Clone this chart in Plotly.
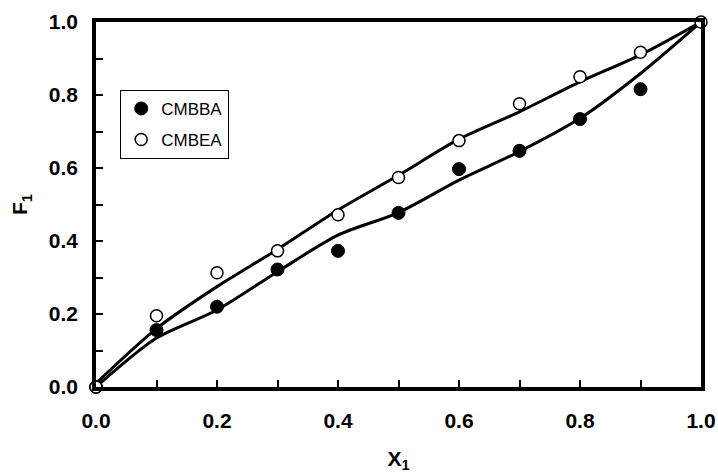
import plotly.graph_objects as go

# experimental points
x_pts = [0.0, 0.1, 0.2, 0.3, 0.4, 0.5, 0.6, 0.7, 0.8, 0.9]
cmbba = [0.0, 0.156, 0.22, 0.322, 0.373, 0.477, 0.597, 0.647, 0.734, 0.816]
x_pts_e = [0.0, 0.1, 0.2, 0.3, 0.4, 0.5, 0.6, 0.7, 0.8, 0.9, 1.0]
cmbea = [0.0, 0.195, 0.313, 0.373, 0.472, 0.574, 0.675, 0.776, 0.85, 0.917, 1.0]

# fitted curves
x_fit = [0.0, 0.1, 0.2, 0.3, 0.4, 0.5, 0.6, 0.7, 0.8, 0.9, 1.0]
fit_upper = [0.01, 0.16, 0.275, 0.377, 0.485, 0.58, 0.679, 0.754, 0.836, 0.91, 1.0]
fit_lower = [0.0, 0.134, 0.211, 0.316, 0.416, 0.478, 0.567, 0.645, 0.736, 0.859, 1.0]

fig = go.Figure()
for yy in (fit_upper, fit_lower):
    fig.add_trace(go.Scatter(x=x_fit, y=yy, mode="lines", showlegend=False,
                             line=dict(color="black", width=3, shape="spline", smoothing=0.8),
                             hoverinfo="skip", cliponaxis=False))
fig.add_trace(go.Scatter(x=x_pts, y=cmbba, mode="markers", name="CMBBA", legendgroup="a",
                         cliponaxis=False,
                         marker=dict(symbol="circle", size=13, color="black",
                                     line=dict(color="black", width=1))))
fig.add_trace(go.Scatter(x=x_pts_e, y=cmbea, mode="markers", name="CMBEA", legendgroup="b",
                         cliponaxis=False,
                         marker=dict(symbol="circle", size=12, color="white",
                                     line=dict(color="black", width=1.5))))

axis_common = dict(
    range=[0, 1], tick0=0, dtick=0.2, tickformat=".1f",
    ticks="inside", ticklen=7, tickwidth=1.5, tickcolor="black",
    minor=dict(dtick=0.1, ticks="inside", ticklen=7, tickwidth=1.5, tickcolor="black"),
    showline=True, linecolor="black", linewidth=3.5, mirror=True,
    showgrid=False, zeroline=False, automargin=False,
    tickfont=dict(family="Liberation Sans, Arial", size=21, color="black", weight="bold"),
)

fig.update_xaxes(**axis_common, ticklabelstandoff=12,
                 title=dict(text="<b>X<sub>1</sub></b>", standoff=38,
                            font=dict(family="Liberation Sans, Arial", size=21, color="black")))
fig.update_yaxes(**axis_common, ticklabelstandoff=10,
                 title=dict(text="<b>F<sub>1</sub></b>", standoff=16,
                            font=dict(family="Liberation Sans, Arial", size=21, color="black")))

fig.update_layout(
    width=718, height=473,
    margin=dict(l=96, r=17, t=22, b=86),
    plot_bgcolor="white", paper_bgcolor="white",
    legend=dict(x=0.04, y=0.814, xanchor="left", yanchor="top",
                bgcolor="white", bordercolor="black", borderwidth=1,
                font=dict(family="Liberation Sans, Arial", size=17, color="black"),
                tracegroupgap=6, itemwidth=30),
)

fig.write_html("out.html")
